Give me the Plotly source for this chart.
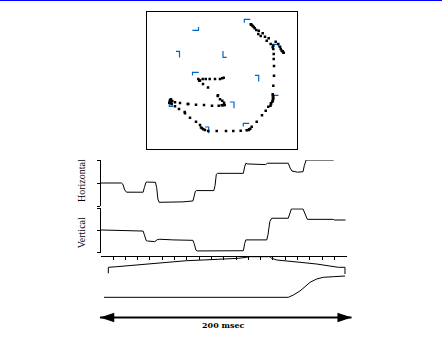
import plotly.graph_objects as go

W, H = 442, 342

# ---- gaze samples on the display (screen units, origin top-left) ----
gaze_x = [104.2, 104.8, 105.2, 106.2, 107.2, 108.2, 109.8, 112.2, 111.8, 116.2, 114.2, 118.5, 122.2, 120.2,
          124.2, 129.2, 126.8, 131.8, 133.5, 134.2, 135.2, 136.5, 137.2, 136.2,
          126.2, 126.8, 127.2, 127.2, 127.5, 127.5, 126.8, 126.2, 126.8, 126.8, 126.5, 126.2, 125.8, 124.5,
          124.5, 124.0,
          121.8, 119.2, 115.5, 110.2, 105.2, 103.8, 102.8, 102.2, 100.2, 94.2, 86.8, 79.5, 70.2, 61.8, 58.5,
          56.8, 55.5, 54.5, 53.5, 49.5, 43.5, 38.5, 38.2, 32.5, 28.5, 25.2, 24.8, 22.8, 23.5, 23.5, 24.5, 25.8,
          28.5, 33.5, 41.2, 41.8, 49.5, 57.5, 65.5, 72.2, 75.2, 76.8, 78.2, 77.5, 75.8, 73.5, 71.2, 71.5,
          61.5, 56.5, 53.5, 52.8, 51.8, 56.2, 59.2, 63.2, 68.5, 73.5, 75.8, 77.2]
gaze_y = [12.8, 13.2, 13.5, 14.5, 15.5, 16.8, 18.5, 19.2, 22.5, 21.8, 24.5, 25.2, 26.8, 29.2,
          32.5, 30.2, 34.2, 32.5, 35.2, 37.5, 39.2, 40.8, 41.2, 39.8,
          35.8, 37.5, 42.5, 47.5, 54.5, 64.2, 74.2, 82.8, 84.5, 86.8, 88.0, 89.2, 90.2, 91.8,
          92.5, 94.2,
          95.2, 99.2, 103.8, 110.2, 115.2, 117.2, 117.8, 118.5, 118.8, 119.2, 119.5, 119.5, 119.5, 119.5, 118.5,
          117.8, 116.8, 116.0, 113.5, 110.2, 106.2, 101.8, 100.5, 97.5, 94.8, 92.8, 91.8, 91.2, 90.2, 88.5, 87.8, 89.5,
          90.8, 91.5, 92.5, 92.5, 93.2, 93.5, 94.2, 94.2, 93.8, 93.8, 93.5, 91.2, 89.2, 87.8, 84.5, 83.8,
          76.0, 72.5, 69.0, 69.2, 67.5, 67.5, 67.5, 67.5, 67.5, 67.5, 66.8, 66.2]

# ---- target corner markers (corner position and arm extents) ----
tgt_x = [97.8, 52.0, 33.0, 76.5, 46.0, 112.2, 132.0, 125.5, 87.5, 22.8, 62.2, 96.8]
tgt_y = [7.8, 18.8, 39.8, 45.8, 60.8, 63.8, 32.8, 83.8, 90.5, 95.0, 115.5, 111.8]
tgt_dx = [6.0, -6.2, -3.5, 3.7, 6.2, -3.7, -6.5, 6.5, -4.0, 4.0, -3.7, 6.0]
tgt_dy = [3.5, -3.3, 6.3, -6.3, 3.3, 6.3, 3.0, 3.3, 6.3, -6.5, 6.3, 3.3]

# ---- eye position traces (time in ms, position in deg) ----
h_t = [0, 17, 18, 19.5, 21, 34.5, 35.5, 36.8, 38, 44.5, 45.5, 46.5, 47.5, 60, 67, 75, 76, 77, 78, 92,
       93, 94, 95, 116, 117, 118, 119, 134, 135.5, 152.5, 154, 155.5, 160, 164.5, 165.5, 167, 189, 190, 199]
h_v = [0, 0, -0.5, -3, -4, -4, -2, 0.3, 0.4, 0.3, -2, -7, -8.4, -8.4, -8.2, -7.8, -6, -3.6, -3.3, -3.3,
       -1, 3.8, 4.2, 4.2, 7, 8.6, 8.3, 8.0, 8.6, 8.6, 6.5, 5.2, 4.7, 4.9, 7.5, 10, 10, 10.3, 10.3]
v_t = [0, 18, 34.5, 35.5, 37, 38, 44, 46, 48, 59, 75, 76, 77.5, 78.5, 116, 117, 118, 135, 136, 137.5,
       139, 152.5, 153.5, 155, 164.5, 166, 168, 189, 190, 199]
v_v = [0.2, 0, -0.3, -2, -4.6, -4.8, -5.1, -4.2, -4.0, -4.3, -4.5, -6, -9, -9.3, -9.2, -6, -4.3, -4.3, -2, 4,
       5.5, 5.5, 7.5, 9.7, 9.7, 7.5, 5.0, 5.0, 4.7, 4.7]

# ---- lower auxiliary traces (time in ms, relative units) ----
a_t = [6.2, 6.2, 13, 27.9, 41.5, 55, 69.9, 83.4, 98.4, 106.5, 111.9, 118.7, 121.4, 137.6, 139, 143.1,
       151.2, 162, 175.6, 186.4, 193.2, 198.6, 198.6]
a_v = [61.7, 75.5, 76.9, 80.8, 83.1, 87.1, 90.8, 92.4, 94.7, 94.7, 96.3, 98.6, 100, 100, 96.3, 92.4,
       90.8, 87.1, 83.1, 79.2, 75.5, 75.5, 60]
b_t = [2.7, 152.5, 156.6, 162, 166.1, 170.2, 175.6, 181, 189.1, 198.6]
b_v = [6.2, 6.2, 11.5, 20.8, 30.7, 40.9, 48.5, 52.4, 53.8, 55.4]

tick_ms = list(range(0, 201, 10))
scale_ms = [0, 200]
scale_label = "200 msec"


def fx(px):
    return px / W


def fy(py):
    return 1 - py / H


BRACKET = "#0066cc"
fig = go.Figure()

# brackets
bx, by = [], []
for x, y, dx, dy in zip(tgt_x, tgt_y, tgt_dx, tgt_dy):
    bx += [x + dx, x, x, None]
    by += [y, y, y + dy, None]
fig.add_trace(go.Scatter(x=bx, y=by, mode="lines", line=dict(color=BRACKET, width=1.2),
                         xaxis="x", yaxis="y", hoverinfo="skip"))
fig.add_trace(go.Scatter(x=gaze_x, y=gaze_y, mode="markers",
                         marker=dict(symbol="square", size=2.5, color="black", line=dict(width=0)),
                         xaxis="x", yaxis="y"))

line = dict(color="black", width=1)
fig.add_trace(go.Scatter(x=h_t, y=h_v, mode="lines", line=line, xaxis="x2", yaxis="y2"))
fig.add_trace(go.Scatter(x=v_t, y=v_v, mode="lines", line=line, xaxis="x3", yaxis="y3"))
fig.add_trace(go.Scatter(x=a_t, y=a_v, mode="lines", line=line, xaxis="x4", yaxis="y4"))
fig.add_trace(go.Scatter(x=b_t, y=b_v, mode="lines", line=line, xaxis="x4", yaxis="y4"))

# scale bar
fig.add_trace(go.Scatter(x=scale_ms, y=[0, 0], mode="lines", line=dict(color="black", width=2),
                         xaxis="x5", yaxis="y5"))
fig.add_trace(go.Scatter(x=scale_ms, y=[0, 0], mode="markers", cliponaxis=False,
                         marker=dict(symbol="arrow", size=15, angle=[-90, 90], color="black"),
                         xaxis="x5", yaxis="y5"))

plain = dict(showgrid=False, zeroline=False, showticklabels=False)
tx = [fx(100.7), fx(346.7)]

fig.update_layout(
    width=W, height=H, margin=dict(l=0, r=0, t=0, b=0),
    paper_bgcolor="white", plot_bgcolor="rgba(0,0,0,0)", showlegend=False,
    xaxis=dict(domain=[fx(146.5), fx(296.5)], range=[0, 150], showline=True, mirror=True,
               linecolor="black", linewidth=1, ticks="", anchor="y", **plain),
    yaxis=dict(domain=[fy(149), fy(11.5)], range=[137.5, 0], showline=True, mirror=True,
               linecolor="black", linewidth=1, ticks="", anchor="x", **plain),
    xaxis2=dict(domain=tx, range=[0, 200], visible=False, anchor="y2"),
    yaxis2=dict(domain=[fy(206), fy(160)], range=[-10, 10], showline=True, linecolor="black",
                linewidth=1, ticks="outside", ticklen=3, tickwidth=1, tickcolor="black",
                tickvals=[-10, 0, 10], anchor="x2", **plain),
    xaxis3=dict(domain=tx, range=[0, 200], visible=False, anchor="y3"),
    yaxis3=dict(domain=[fy(252.5), fy(208.3)], range=[-10, 10], showline=True, linecolor="black",
                linewidth=1, ticks="outside", ticklen=3, tickwidth=1, tickcolor="black",
                tickvals=[-10, 0, 10], anchor="x3", **plain),
    xaxis4=dict(domain=tx, range=[0, 200], side="top", showline=True, linecolor="black", linewidth=1,
                ticks="inside", ticklen=3, tickwidth=1, tickcolor="black", tickvals=tick_ms,
                anchor="y4", **plain),
    yaxis4=dict(domain=[fy(300), fy(256.7)], range=[0, 100], visible=False, anchor="x4"),
    xaxis5=dict(domain=[fx(100), fx(351.7)], range=[0, 200], visible=False, anchor="y5"),
    yaxis5=dict(domain=[fy(327.5), fy(307.5)], range=[-1, 1], visible=False, anchor="x5"),
    shapes=[dict(type="line", xref="paper", yref="paper", x0=0, x1=1, y0=1, y1=1,
                 line=dict(color="#0000ff", width=2))],
    annotations=[
        dict(text="Horizontal", x=fx(81), y=fy(181), xref="paper", yref="paper", textangle=-90,
             showarrow=False, xanchor="center", yanchor="middle",
             font=dict(family="Liberation Serif", size=10, color="black")),
        dict(text="Vertical", x=fx(81), y=fy(233.3), xref="paper", yref="paper", textangle=-90,
             showarrow=False, xanchor="center", yanchor="middle",
             font=dict(family="Liberation Serif", size=10, color="black")),
        dict(text=scale_label, x=fx(223.3), y=fy(325), xref="paper", yref="paper",
             showarrow=False, xanchor="center", yanchor="middle",
             font=dict(family="DejaVu Serif", size=8, color="black", weight="bold")),
    ],
)

fig.write_html("out.html", config={"displayModeBar": False})
